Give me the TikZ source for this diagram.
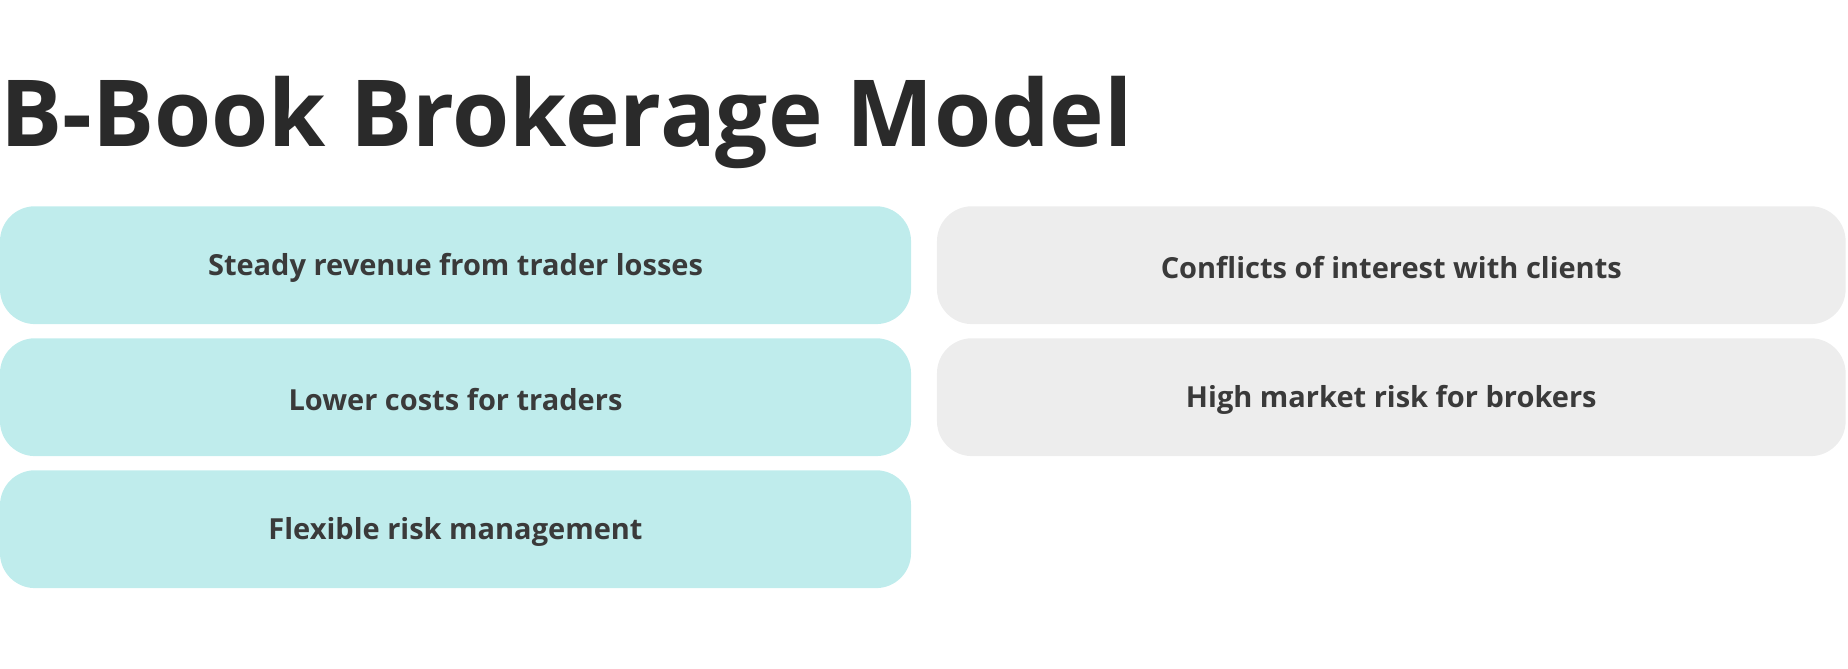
\documentclass[tikz,border=0pt]{standalone}
\usepackage{fontspec}
\setmainfont{Open Sans}
\definecolor{cy}{HTML}{BFECEC}
\definecolor{gr}{HTML}{EDEDED}
\definecolor{tx}{HTML}{3A3A3A}
\definecolor{tt}{HTML}{2A2A2A}
\begin{document}
\begin{tikzpicture}[x=1.1786pt,y=-1.1786pt,
  card/.style={rounded corners=35pt,draw=none},
  lbl/.style={font=\fontsize{29}{34}\selectfont\bfseries,text=tx}]
\useasboundingbox (0,0) rectangle (1568,567);
\node[anchor=base west,inner sep=0,font=\fontsize{92.5}{100}\selectfont\bfseries,text=tt] (title) at (0,124) {B-Book Brokerage Model};
\foreach \y/\t/\n in {175/Steady revenue from trader losses/a,287/Lower costs for traders/b,399/Flexible risk management/c}{
  \fill[card,cy] (0,\y) rectangle (773,\y+100);
  \node[lbl] (\n) at (386.5,\y+52) {\t};
}
\foreach \y/\t/\n in {175/Conflicts of interest with clients/d,287/High market risk for brokers/e}{
  \fill[card,gr] (795,\y) rectangle (1566,\y+100);
  \node[lbl] (\n) at (1180.5,\y+52) {\t};
}
\end{tikzpicture}
\end{document}
